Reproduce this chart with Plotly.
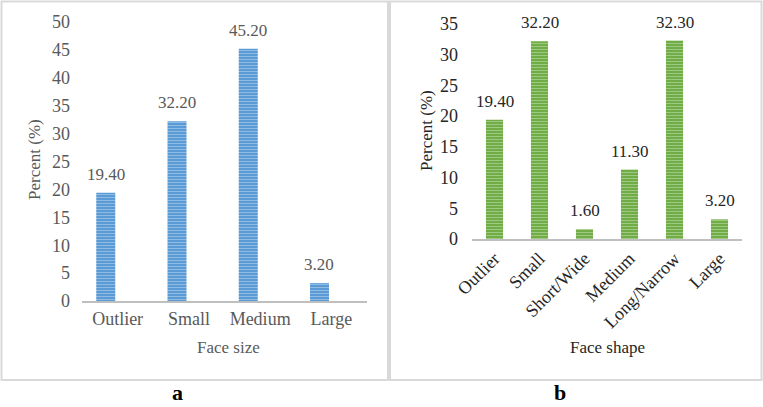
import plotly.graph_objects as go

size_cats = ["Outlier", "Small", "Medium", "Large"]
size_vals = [19.40, 32.20, 45.20, 3.20]
shape_cats = ["Outlier", "Small", "Short/Wide", "Medium", "Long/Narrow", "Large"]
shape_vals = [19.40, 32.20, 1.60, 11.30, 32.30, 3.20]

W, H = 763, 407
FONT = "Liberation Serif"
GREY = "#595959"
DARK = "#262626"

def px(x):
    return x / W

def py(y):
    return 1 - y / H

fig = go.Figure()
fig.add_trace(go.Bar(
    x=size_cats, y=size_vals, xaxis="x", yaxis="y", width=0.267, offset=-0.30,
    marker=dict(color="#5b9bd5", line=dict(width=0),
                pattern=dict(shape="-", fgcolor="#c6dcf1", size=3, solidity=0.35, fillmode="overlay")),
    showlegend=False, hoverinfo="skip",
))
fig.add_trace(go.Bar(
    x=shape_cats, y=shape_vals, xaxis="x2", yaxis="y2", width=0.38,
    marker=dict(color="#70ad47", line=dict(width=0),
                pattern=dict(shape="-", fgcolor="#cde5bd", size=3, solidity=0.35, fillmode="overlay")),
    showlegend=False, hoverinfo="skip",
))

axis_common = dict(showgrid=False, zeroline=False, ticks="", automargin=False)

fig.update_layout(
    width=W, height=H, margin=dict(l=0, r=0, t=0, b=0, pad=0, autoexpand=False), autosize=False,
    paper_bgcolor="white", plot_bgcolor="white",
    xaxis=dict(domain=[px(82), px(367)], anchor="y", showline=True, linecolor="#bfbfbf", linewidth=2,
               tickfont=dict(family=FONT, size=18, color=GREY), **axis_common),
    yaxis=dict(domain=[py(301), py(22)], anchor="x", range=[0, 50], dtick=5, showline=False,
               ticklabelstandoff=11, tickfont=dict(family=FONT, size=18, color=GREY), **axis_common),
    xaxis2=dict(domain=[px(472), px(742)], anchor="y2", showline=True, linecolor="#bfbfbf", linewidth=2,
                tickangle=-45, tickfont=dict(family=FONT, size=18, color=DARK), **axis_common),
    yaxis2=dict(domain=[py(239), py(24)], anchor="x2", range=[0, 35], dtick=5, showline=False,
                ticklabelstandoff=13, tickfont=dict(family=FONT, size=18, color=DARK), **axis_common),
)

annotations = []
# data labels
for c, v in zip(size_cats, size_vals):
    annotations.append(dict(text=f"{v:.2f}", x=c, y=v, xref="x", yref="y", xshift=-12, yshift=7,
                            yanchor="bottom", font=dict(family=FONT, size=17, color=GREY)))
for c, v in zip(shape_cats, shape_vals):
    annotations.append(dict(text=f"{v:.2f}", x=c, y=v, xref="x2", yref="y2", yshift=7,
                            yanchor="bottom", font=dict(family=FONT, size=17, color=DARK)))

paper_ann = [
    dict(text="Percent (%)", x=px(35), y=py(160), textangle=-90, yanchor="middle",
         font=dict(family=FONT, size=17, color=GREY)),
    dict(text="Face size", x=px(228), y=py(347), yanchor="middle", font=dict(family=FONT, size=17, color=GREY)),
    dict(text="Percent (%)", x=px(427), y=py(131), textangle=-90, yanchor="middle",
         font=dict(family=FONT, size=17, color=DARK)),
    dict(text="Face shape", x=px(607), y=py(347), yanchor="middle", font=dict(family=FONT, size=17, color=DARK)),
    dict(text="<b>a</b>", x=px(177), y=0, yanchor="bottom", font=dict(family=FONT, size=22, color="black")),
    dict(text="<b>b</b>", x=px(560), y=0, yanchor="bottom", font=dict(family=FONT, size=22, color="black")),
]
for a in paper_ann:
    a.update(xref="paper", yref="paper")
annotations += paper_ann
for a in annotations:
    a.update(showarrow=False, xanchor="center")
fig.update_layout(annotations=annotations)

fig.update_layout(shapes=[
    dict(type="rect", xref="paper", yref="paper", x0=px(1.5), x1=px(388), y0=py(380), y1=py(1.5),
         line=dict(color="#d9d9d9", width=2)),
    dict(type="rect", xref="paper", yref="paper", x0=px(390), x1=px(761.5), y0=py(380), y1=py(1.5),
         line=dict(color="#d9d9d9", width=2)),
])

fig.write_html("out.html", config={"displayModeBar": False},
               post_script="document.body.style.margin='0';document.body.style.padding='0';")
